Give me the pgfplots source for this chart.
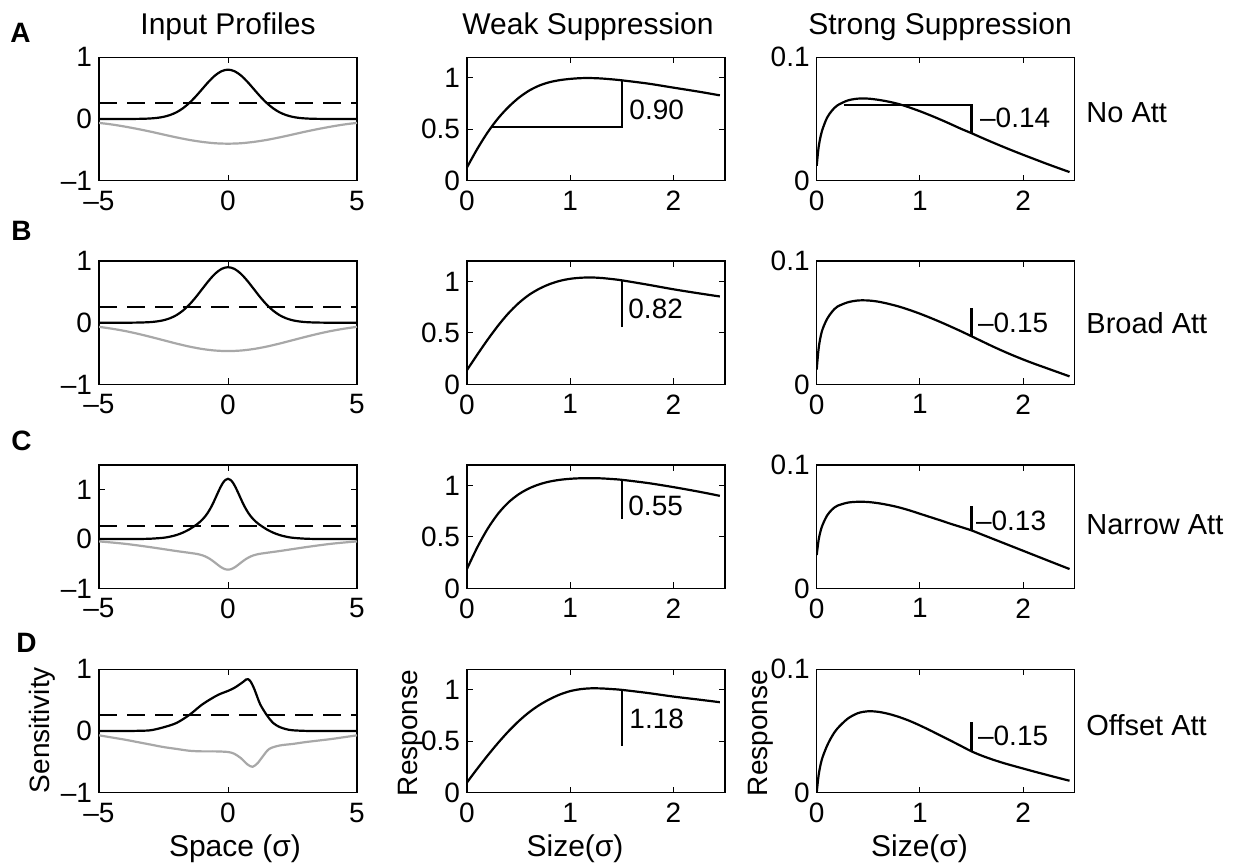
\documentclass[border=0pt]{standalone}
\usepackage{fontspec}
\setmainfont{Liberation Sans}
\usepackage{pgfplots}
\pgfplotsset{compat=1.18}
\definecolor{lgray}{gray}{0.66}
\newcommand{\fs}{\fontsize{14}{16}\selectfont}
\newcommand{\ft}{\fontsize{15}{17}\selectfont}
\newcommand{\fr}{\fontsize{14.5}{17}\selectfont}
\pgfplotsset{
  base/.style={scale only axis, width=129pt, height=61.7pt, anchor=north west,
    axis line style={line width=0.6pt}, tick align=inside, major tick length=3pt,
    every tick/.style={black, line width=0.5pt},
    ticklabel style={font=\fs},
    xticklabel style={yshift=-1.5pt},
  },
  inp/.style={base, xmin=-5,xmax=5, ymin=-1,ymax=1, xtick={-5,0,5}, xticklabels={–5,0,5}, ytick={-1,0,1}, yticklabels={–1,0,1}},
  weak/.style={base, xmin=0,xmax=2.5,ymin=0,ymax=1.2, xtick={0,1,2}, xticklabels={0,1,2}, ytick={0,0.5,1}, yticklabels={0,0.5,1}},
  strong/.style={base, xmin=0,xmax=2.5,ymin=0,ymax=0.1, xtick={0,1,2}, xticklabels={0,1,2}, ytick={0,0.1}, yticklabels={0,0.1}},
  blk/.style={black, line width=1.1pt, smooth, no markers},
  gry/.style={lgray, line width=1.1pt, smooth, no markers},
  dsh/.style={black, line width=1.05pt, dash pattern=on 9pt off 5pt, no markers},
  seg/.style={black, line width=1.05pt, no markers},
}
\begin{document}
\begin{tikzpicture}
\useasboundingbox (0,0) rectangle (617pt,-433pt);
% ---------- Row A ----------
\begin{axis}[inp, at={(49.5pt,-28.65pt)}]
\addplot[dsh] coordinates {(-5,0.26) (5,0.26)};
\addplot[gry] coordinates {(-5,-0.063) (-4.5,-0.089) (-4,-0.123) (-3.5,-0.162) (-3,-0.205) (-2.5,-0.252) (-2,-0.298) (-1.5,-0.339) (-1,-0.371) (-0.5,-0.393) (0,-0.400) (0.5,-0.393) (1,-0.371) (1.5,-0.339) (2,-0.298) (2.5,-0.252) (3,-0.205) (3.5,-0.162) (4,-0.123) (4.5,-0.089) (5,-0.063)};
\addplot[blk] coordinates {(-5,0) (-4,0) (-3.5,0.002) (-3.25,0.004) (-3,0.009) (-2.75,0.018) (-2.5,0.035) (-2.25,0.064) (-2,0.108) (-1.75,0.173) (-1.5,0.260) (-1.25,0.366) (-1,0.485) (-0.75,0.604) (-0.5,0.706) (-0.25,0.775) (0,0.8) (0.25,0.775) (0.5,0.706) (0.75,0.604) (1,0.485) (1.25,0.366) (1.5,0.260) (1.75,0.173) (2,0.108) (2.25,0.064) (2.5,0.035) (2.75,0.018) (3,0.009) (3.25,0.004) (3.5,0.002) (4,0) (5,0)};
\end{axis}
\begin{axis}[weak, at={(233.5pt,-28.65pt)}]
\addplot[blk] coordinates {(0,0.13) (0.1,0.31) (0.2,0.47) (0.3,0.605) (0.4,0.715) (0.5,0.805) (0.6,0.875) (0.7,0.925) (0.8,0.958) (0.9,0.978) (1.0,0.99) (1.1,0.997) (1.2,0.998) (1.3,0.994) (1.4,0.986) (1.5,0.976) (1.75,0.945) (2.0,0.905) (2.25,0.865) (2.45,0.83)};
\addplot[seg] coordinates {(0.24,0.52) (1.5,0.52) (1.5,0.976)};
\node[anchor=west, inner sep=0pt, font=\fs] at (axis cs:1.57,0.687) {0.90};
\end{axis}
\begin{axis}[strong, at={(408.35pt,-28.65pt)}]
\addplot[blk] coordinates {(0,0.012) (0.02,0.028) (0.05,0.040) (0.1,0.051) (0.15,0.057) (0.2,0.061) (0.3,0.065) (0.4,0.0665) (0.5,0.0665) (0.6,0.0655) (0.7,0.064) (0.8,0.062) (0.9,0.0593) (1.0,0.0563) (1.1,0.0530) (1.2,0.0495) (1.3,0.0458) (1.4,0.0420) (1.5,0.0385) (1.6,0.0348) (1.7,0.0312) (1.8,0.0277) (1.9,0.0243) (2.0,0.0210) (2.1,0.0178) (2.2,0.0146) (2.3,0.0115) (2.4,0.0085) (2.45,0.007)};
\addplot[seg] coordinates {(0.26,0.061) (1.5,0.061) (1.5,0.0385)};
\node[anchor=west, inner sep=0pt, font=\fs] at (axis cs:1.58,0.0506) {–0.14};
\end{axis}
% ---------- Row B ----------
\begin{axis}[inp, at={(49.5pt,-130.5pt)}]
\addplot[dsh] coordinates {(-5,0.26) (5,0.26)};
\addplot[gry] coordinates {(-5,-0.067) (-4.5,-0.097) (-4,-0.134) (-3.5,-0.179) (-3,-0.230) (-2.5,-0.284) (-2,-0.338) (-1.5,-0.387) (-1,-0.426) (-0.5,-0.451) (0,-0.46) (0.5,-0.451) (1,-0.426) (1.5,-0.387) (2,-0.338) (2.5,-0.284) (3,-0.230) (3.5,-0.179) (4,-0.134) (4.5,-0.097) (5,-0.067)};
\addplot[blk] coordinates {(-5,0) (-4,0) (-3.5,0.002) (-3.25,0.005) (-3,0.010) (-2.75,0.021) (-2.5,0.040) (-2.25,0.072) (-2,0.122) (-1.75,0.195) (-1.5,0.292) (-1.25,0.412) (-1,0.546) (-0.75,0.679) (-0.5,0.794) (-0.25,0.872) (0,0.9) (0.25,0.872) (0.5,0.794) (0.75,0.679) (1,0.546) (1.25,0.412) (1.5,0.292) (1.75,0.195) (2,0.122) (2.25,0.072) (2.5,0.040) (2.75,0.021) (3,0.010) (3.25,0.005) (3.5,0.002) (4,0) (5,0)};
\end{axis}
\begin{axis}[weak, at={(233.5pt,-130.5pt)}]
\addplot[blk] coordinates {(0,0.14) (0.1,0.29) (0.2,0.435) (0.3,0.57) (0.4,0.69) (0.5,0.79) (0.6,0.87) (0.7,0.93) (0.8,0.975) (0.9,1.007) (1.0,1.027) (1.1,1.037) (1.2,1.04) (1.3,1.035) (1.4,1.025) (1.5,1.012) (1.75,0.97) (2.0,0.925) (2.25,0.885) (2.45,0.855)};
\addplot[seg] coordinates {(1.5,0.558) (1.5,1.012)};
\node[anchor=west, inner sep=0pt, font=\fs] at (axis cs:1.56,0.736) {0.82};
\end{axis}
\begin{axis}[strong, at={(408.35pt,-130.5pt)}]
\addplot[blk] coordinates {(0,0.012) (0.02,0.030) (0.05,0.043) (0.1,0.053) (0.15,0.059) (0.2,0.063) (0.3,0.0665) (0.4,0.068) (0.5,0.068) (0.6,0.067) (0.7,0.0652) (0.8,0.063) (0.9,0.0603) (1.0,0.0573) (1.1,0.054) (1.2,0.0505) (1.3,0.0468) (1.4,0.043) (1.5,0.039) (1.6,0.035) (1.7,0.031) (1.8,0.0272) (1.9,0.0236) (2.0,0.0202) (2.1,0.017) (2.2,0.014) (2.3,0.011) (2.45,0.0065)};
\addplot[seg] coordinates {(1.5,0.039) (1.5,0.062)};
\node[anchor=west, inner sep=0pt, font=\fs] at (axis cs:1.56,0.0495) {–0.15};
\end{axis}
% ---------- Row C ----------
\begin{axis}[inp, ymax=1.5, at={(49.5pt,-232.5pt)}]
\addplot[dsh] coordinates {(-5,0.26) (5,0.26)};
\addplot[gry] coordinates {(-5,-0.048) (-4.5,-0.070) (-4,-0.096) (-3.5,-0.129) (-3,-0.165) (-2.5,-0.204) (-2,-0.243) (-1.5,-0.279) (-1.2,-0.302) (-1,-0.329) (-0.9,-0.348) (-0.8,-0.373) (-0.7,-0.403) (-0.6,-0.439) (-0.5,-0.479) (-0.4,-0.520) (-0.3,-0.560) (-0.2,-0.591) (-0.1,-0.613) (0,-0.62) (0.1,-0.613) (0.2,-0.591) (0.3,-0.560) (0.4,-0.520) (0.5,-0.479) (0.6,-0.439) (0.7,-0.403) (0.8,-0.373) (0.9,-0.348) (1,-0.329) (1.2,-0.302) (1.5,-0.279) (2,-0.243) (2.5,-0.204) (3,-0.165) (3.5,-0.129) (4,-0.096) (4.5,-0.070) (5,-0.048)};
\addplot[blk] coordinates {(-5,0) (-4,0) (-3.5,0.001) (-3,0.007) (-2.5,0.026) (-2.25,0.048) (-2,0.081) (-1.75,0.130) (-1.5,0.196) (-1.2,0.299) (-1.1,0.342) (-1,0.391) (-0.9,0.449) (-0.8,0.520) (-0.7,0.604) (-0.6,0.702) (-0.5,0.814) (-0.4,0.930) (-0.3,1.041) (-0.2,1.135) (-0.1,1.198) (0,1.22) (0.1,1.198) (0.2,1.135) (0.3,1.041) (0.4,0.930) (0.5,0.814) (0.6,0.702) (0.7,0.604) (0.8,0.520) (0.9,0.449) (1,0.391) (1.1,0.342) (1.2,0.299) (1.5,0.196) (1.75,0.130) (2,0.081) (2.25,0.048) (2.5,0.026) (3,0.007) (3.5,0.001) (4,0) (5,0)};
\end{axis}
\begin{axis}[weak, at={(233.5pt,-232.5pt)}]
\addplot[blk] coordinates {(0,0.19) (0.1,0.40) (0.2,0.58) (0.3,0.725) (0.4,0.835) (0.5,0.915) (0.6,0.972) (0.7,1.012) (0.8,1.039) (0.9,1.056) (1.0,1.066) (1.1,1.071) (1.2,1.072) (1.3,1.07) (1.4,1.064) (1.5,1.056) (1.75,1.025) (2.0,0.985) (2.25,0.94) (2.45,0.90)};
\addplot[seg] coordinates {(1.5,0.678) (1.5,1.056)};
\node[anchor=west, inner sep=0pt, font=\fs] at (axis cs:1.56,0.80) {0.55};
\end{axis}
\begin{axis}[strong, at={(408.35pt,-232.5pt)}]
\addplot[blk] coordinates {(0,0.027) (0.02,0.040) (0.05,0.050) (0.1,0.059) (0.15,0.064) (0.2,0.067) (0.3,0.0695) (0.4,0.0702) (0.5,0.070) (0.6,0.069) (0.7,0.0675) (0.8,0.0656) (0.9,0.0632) (1.0,0.0605) (1.1,0.0578) (1.2,0.0551) (1.3,0.0523) (1.4,0.0497) (1.5,0.047) (1.6,0.0437) (1.7,0.0404) (1.8,0.0371) (1.9,0.0338) (2.0,0.0305) (2.1,0.0272) (2.2,0.0239) (2.3,0.0206) (2.45,0.0157)};
\addplot[seg] coordinates {(1.5,0.047) (1.5,0.0667)};
\node[anchor=west, inner sep=0pt, font=\fs] at (axis cs:1.54,0.0548) {–0.13};
\end{axis}
% ---------- Row D ----------
\begin{axis}[inp, at={(49.5pt,-334.65pt)}]
\addplot[dsh] coordinates {(-5,0.26) (5,0.26)};
\addplot[gry] coordinates {(-5,-0.07) (-4.5,-0.105) (-4,-0.14) (-3.5,-0.18) (-3,-0.22) (-2.5,-0.26) (-2,-0.29) (-1.5,-0.32) (-1,-0.33) (-0.5,-0.33) (0,-0.34) (0.25,-0.37) (0.5,-0.44) (0.75,-0.54) (0.95,-0.58) (1.15,-0.52) (1.35,-0.41) (1.6,-0.29) (2,-0.235) (2.5,-0.21) (3,-0.18) (3.5,-0.155) (4,-0.13) (4.5,-0.10) (5,-0.07)};
\addplot[blk] coordinates {(-5,0) (-4,0) (-3.5,0.003) (-3,0.012) (-2.5,0.06) (-2,0.13) (-1.5,0.26) (-1,0.43) (-0.5,0.56) (-0.25,0.61) (0,0.65) (0.25,0.70) (0.5,0.77) (0.6,0.80) (0.7,0.835) (0.78,0.84) (0.88,0.80) (1.0,0.70) (1.12,0.57) (1.25,0.43) (1.5,0.26) (1.75,0.13) (2,0.065) (2.25,0.03) (2.5,0.012) (3,0.002) (3.5,0) (5,0)};
\end{axis}
\begin{axis}[weak, at={(233.5pt,-334.65pt)}]
\addplot[blk] coordinates {(0,0.10) (0.1,0.234) (0.2,0.362) (0.3,0.483) (0.4,0.595) (0.5,0.695) (0.6,0.781) (0.7,0.852) (0.8,0.909) (0.9,0.955) (1.0,0.988) (1.1,1.007) (1.2,1.015) (1.3,1.014) (1.4,1.008) (1.5,1.00) (1.75,0.97) (2.0,0.935) (2.25,0.905) (2.45,0.88)};
\addplot[seg] coordinates {(1.5,0.458) (1.5,1.0)};
\node[anchor=west, inner sep=0pt, font=\fs] at (axis cs:1.57,0.716) {1.18};
\end{axis}
\begin{axis}[strong, at={(408.35pt,-334.65pt)}]
\addplot[blk] coordinates {(0,0.0) (0.02,0.015) (0.05,0.027) (0.1,0.038) (0.15,0.046) (0.2,0.052) (0.3,0.060) (0.4,0.0645) (0.5,0.066) (0.6,0.0655) (0.7,0.0638) (0.8,0.0613) (0.9,0.0582) (1.0,0.0545) (1.1,0.0505) (1.2,0.0463) (1.3,0.0421) (1.4,0.0378) (1.5,0.0335) (1.6,0.030) (1.7,0.027) (1.8,0.0243) (1.9,0.0219) (2.0,0.0196) (2.1,0.0173) (2.2,0.0151) (2.3,0.0129) (2.45,0.0097)};
\addplot[seg] coordinates {(1.5,0.0335) (1.5,0.0574)};
\node[anchor=west, inner sep=0pt, font=\fs] at (axis cs:1.56,0.0458) {–0.15};
\end{axis}
% ---------- titles and labels ----------
\node[anchor=base, font=\ft] at (114pt,-17.3pt) {Input Profiles};
\node[anchor=base, font=\ft] at (294pt,-17.5pt) {Weak Suppression};
\node[anchor=base, font=\ft] at (470pt,-17.5pt) {Strong Suppression};
\node[anchor=base west, inner sep=0pt, font=\fontsize{14}{16}\selectfont\bfseries] at (5pt,-21.5pt) {A};
\node[anchor=base west, inner sep=0pt, font=\fontsize{14}{16}\selectfont\bfseries] at (5.5pt,-120pt) {B};
\node[anchor=base west, inner sep=0pt, font=\fontsize{14}{16}\selectfont\bfseries] at (5.5pt,-225pt) {C};
\node[anchor=base west, inner sep=0pt, font=\fontsize{14}{16}\selectfont\bfseries] at (8pt,-326pt) {D};
\node[anchor=west, inner sep=0pt, font=\fr] at (543pt,-56.5pt) {No Att};
\node[anchor=west, inner sep=0pt, font=\fr] at (543pt,-161.5pt) {Broad Att};
\node[anchor=west, inner sep=0pt, font=\fr] at (543pt,-262.5pt) {Narrow Att};
\node[anchor=west, inner sep=0pt, font=\fr] at (543pt,-362.5pt) {Offset Att};
\node[rotate=90, inner sep=0pt, font=\fs] at (21pt,-365pt) {Sensitivity};
\node[rotate=90, inner sep=0pt, font=\fs] at (205.5pt,-366.5pt) {Response};
\node[rotate=90, inner sep=0pt, font=\fs] at (380.5pt,-366.5pt) {Response};
\node[anchor=base, font=\ft] at (117.5pt,-428pt) {Space (σ)};
\node[anchor=base, font=\ft] at (287.5pt,-428pt) {Size(σ)};
\node[anchor=base, font=\ft] at (459.75pt,-428pt) {Size(σ)};
\end{tikzpicture}
\end{document}
